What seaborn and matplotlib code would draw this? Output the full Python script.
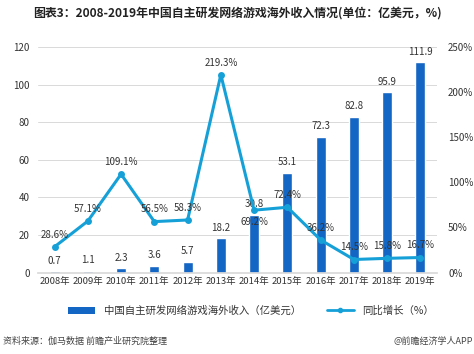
import matplotlib
matplotlib.use("Agg")
import matplotlib.pyplot as plt
import seaborn as sns
import pandas as pd
from matplotlib.lines import Line2D
from matplotlib.patches import Patch

years = ["2008年", "2009年", "2010年", "2011年", "2012年", "2013年", "2014年",
         "2015年", "2016年", "2017年", "2018年", "2019年"]
revenue = [0.7, 1.1, 2.3, 3.6, 5.7, 18.2, 30.8, 53.1, 72.3, 82.8, 95.9, 111.9]
growth = [28.6, 57.1, 109.1, 56.5, 58.3, 219.3, 69.2, 72.4, 36.2, 14.5, 15.8, 16.7]
left_ticks = [0, 20, 40, 60, 80, 100, 120]
right_ticks = [0, 50, 100, 150, 200, 250]

sns.set_theme(style="white")
plt.rcParams['font.family'] = ['Noto Sans CJK SC', 'DejaVu Sans']

bar_color = "#1366c4"
line_color = "#16a0d8"
text_color = "#333333"

df = pd.DataFrame({"year": years, "revenue": revenue, "growth": growth})

fig = plt.figure(figsize=(4.74, 3.54), dpi=100)
ax = fig.add_axes([0.08, 0.23, 0.842, 0.637])
sns.barplot(data=df, x="year", y="revenue", color=bar_color, width=0.3,
            saturation=1, ax=ax)
ax.set_ylim(0, 120)
ax.set_yticks(left_ticks)
ax.set_yticklabels([str(t) for t in left_ticks], fontsize=7, color=text_color)
ax.set_xlim(-0.5, len(years) - 0.5)
ax.tick_params(axis='x', labelsize=6.8, colors=text_color, length=0, pad=3)
ax.tick_params(axis='y', length=0, pad=6)
ax.set_xlabel("")
ax.set_ylabel("")
ax.grid(axis='y', color="#d9d9d9", linewidth=0.7)
ax.set_axisbelow(True)
for s in ax.spines.values():
    s.set_visible(False)
ax.spines['bottom'].set_visible(True)
ax.spines['bottom'].set_color("#d9d9d9")

for i, v in enumerate(revenue):
    ax.text(i, v + 3, f"{v}", ha='center', va='bottom', fontsize=7, color=text_color)

ax2 = ax.twinx()
x = list(range(len(years)))
sns.lineplot(x=x, y=growth, color=line_color, linewidth=2.2, marker='o',
             markersize=5, markeredgewidth=0, ax=ax2)
ax2.set_ylim(0, 250)
ax2.set_yticks(right_ticks)
ax2.set_yticklabels([f"{t}%" for t in right_ticks], fontsize=7, color=text_color)
ax2.tick_params(axis='y', length=0, pad=8)
for s in ax2.spines.values():
    s.set_visible(False)
ax2.set_xlim(-0.5, len(years) - 0.5)

for i, g in enumerate(growth):
    if years[i] == "2014年":
        ax2.text(i, g - 8, f"{g}%", ha='center', va='top', fontsize=7, color=text_color)
    else:
        ax2.text(i, g + 8, f"{g}%", ha='center', va='bottom', fontsize=7, color=text_color)

handles = [Patch(facecolor=bar_color, edgecolor='none'),
           Line2D([0], [0], color=line_color, linewidth=2, marker='o', markersize=3)]
labels = ["中国自主研发网络游戏海外收入（亿美元）", "同比增长（%）"]
fig.legend(handles, labels, loc='center', bbox_to_anchor=(0.53, 0.122), ncol=2,
           frameon=False, fontsize=7.5, handlelength=2.6, columnspacing=2.5,
           handleheight=0.6, labelcolor=text_color)

fig.text(0.5, 0.963, "图表3：2008-2019年中国自主研发网络游戏海外收入情况(单位：亿美元，%)",
         fontsize=8.6, fontweight='bold', color="#222222", ha='center', va='center')
fig.text(0.006, 0.035, "资料来源：伽马数据 前瞻产业研究院整理", fontsize=6.5,
         color="#444444", ha='left', va='center')
fig.text(0.998, 0.035, "@前瞻经济学人APP", fontsize=6.5, color="#444444",
         ha='right', va='center')

fig.savefig("out.png", dpi=100)
